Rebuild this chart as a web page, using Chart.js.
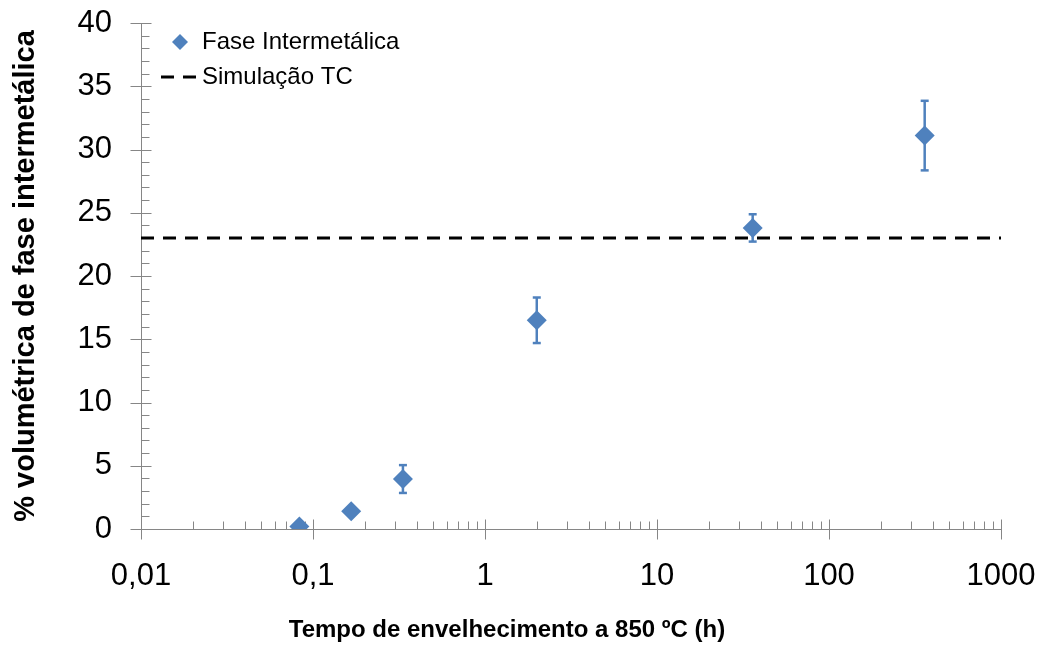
<!DOCTYPE html>
<html>
<head>
<meta charset="utf-8">
<script src="https://cdn.jsdelivr.net/npm/chart.js@4.4.1/dist/chart.umd.min.js"></script>
<style>
  html, body { margin: 0; padding: 0; background: #fff; }
  canvas { display: block; }
</style>
</head>
<body>
<canvas id="chart" width="1041" height="646"></canvas>
<script>
// data
const timeHours = [0.0833, 0.1667, 0.3333, 2, 36, 360];
const phasePct = [0.2, 1.4, 3.95, 16.5, 23.8, 31.1];
const phaseErr = [0, 0, 1.1, 1.8, 1.08, 2.75];
const simTime = [0.01, 1000];
const simPct = [23, 23];
const xTickValues = [0.01, 0.1, 1, 10, 100, 1000];
const xTickLabels = ['0,01', '0,1', '1', '10', '100', '1000'];
const yTickValues = [0, 5, 10, 15, 20, 25, 30, 35, 40];
const seriesNames = ['Fase Intermetálica', 'Simulação TC'];
const xTitle = 'Tempo de envelhecimento a 850 ºC (h)';
const yTitle = '% volumétrica de fase intermetálica';

const BLUE = '#4F81BD';
const AXIS = '#868686';
const FONT = '"Liberation Sans", Arial, sans-serif';

// kill the label overflow padding so the plot area sits where the layout padding says
function noOverflow(s) {
  s.paddingTop = 0; s.paddingBottom = 0; s.paddingLeft = 0; s.paddingRight = 0;
}

// axis lines, tick marks (major cross, minor inside) and error bars
const axesPlugin = {
  id: 'axesPlugin',
  beforeDatasetsDraw(chart) {
    const { ctx, chartArea: a, scales: { x, y } } = chart;
    ctx.save();
    ctx.strokeStyle = AXIS;
    ctx.lineWidth = 1;
    const line = (x1, y1, x2, y2) => {
      ctx.beginPath(); ctx.moveTo(x1, y1); ctx.lineTo(x2, y2); ctx.stroke();
    };
    const ax = Math.round(a.left) + 0.5;
    const ay = Math.round(a.bottom) + 0.5;
    line(ax, a.top, ax, a.bottom);
    line(a.left, ay, a.right, ay);
    // y ticks
    for (let v = 0; v <= 40; v++) {
      const py = Math.round(y.getPixelForValue(v)) + 0.5;
      if (yTickValues.includes(v)) line(ax - 11, py, ax + 10, py);
      else line(ax, py, ax + 8, py);
    }
    // x ticks
    xTickValues.forEach((d, i) => {
      const px = Math.round(x.getPixelForValue(d)) + 0.5;
      line(px, ay - 10, px, ay + 10);
      if (i < xTickValues.length - 1) {
        for (let k = 2; k <= 9; k++) {
          const mx = Math.round(x.getPixelForValue(k * d)) + 0.5;
          line(mx, ay - 8, mx, ay);
        }
      }
    });
    // error bars
    ctx.strokeStyle = BLUE;
    ctx.lineWidth = 2.5;
    timeHours.forEach((t, i) => {
      if (!phaseErr[i]) return;
      const px = x.getPixelForValue(t);
      const top = y.getPixelForValue(phasePct[i] + phaseErr[i]);
      const bot = y.getPixelForValue(phasePct[i] - phaseErr[i]);
      line(px, top, px, bot);
      line(px - 4, top, px + 4, top);
      line(px - 4, bot, px + 4, bot);
    });
    ctx.restore();
  },
  afterDraw(chart) {
    const { ctx, chartArea: a } = chart;
    ctx.save();
    // legend
    ctx.fillStyle = BLUE;
    ctx.beginPath();
    ctx.moveTo(180, 34); ctx.lineTo(188, 42); ctx.lineTo(180, 50); ctx.lineTo(172, 42);
    ctx.closePath(); ctx.fill();
    ctx.strokeStyle = '#000';
    ctx.lineWidth = 3;
    ctx.setLineDash([13, 9]);
    ctx.beginPath(); ctx.moveTo(161, 77); ctx.lineTo(196, 77); ctx.stroke();
    ctx.setLineDash([]);
    ctx.fillStyle = '#000';
    ctx.font = '24px ' + FONT;
    ctx.textAlign = 'left';
    ctx.textBaseline = 'middle';
    ctx.fillText(seriesNames[0], 202, 42);
    ctx.fillText(seriesNames[1], 202, 77);
    // axis titles
    ctx.font = 'bold 24px ' + FONT;
    ctx.textAlign = 'center';
    ctx.fillText(xTitle, 507, 630);
    ctx.translate(26, (a.top + a.bottom) / 2);
    ctx.rotate(-Math.PI / 2);
    ctx.font = 'bold 29px ' + FONT;
    ctx.fillText(yTitle, 0, 0);
    ctx.restore();
  }
};

new Chart(document.getElementById('chart'), {
  type: 'scatter',
  data: {
    datasets: [
      {
        label: seriesNames[0],
        data: timeHours.map((t, i) => ({ x: t, y: phasePct[i] })),
        pointStyle: 'rectRot',
        pointRadius: 10,
        pointHoverRadius: 10,
        backgroundColor: BLUE,
        borderColor: BLUE,
        borderWidth: 0,
        showLine: false
      },
      {
        label: seriesNames[1],
        data: simTime.map((t, i) => ({ x: t, y: simPct[i] })),
        showLine: true,
        borderColor: '#000',
        borderWidth: 3,
        borderDash: [13, 9],
        pointRadius: 0,
        fill: false
      }
    ]
  },
  options: {
    responsive: false,
    animation: false,
    layout: { padding: { top: 23, right: 40, left: 0, bottom: 0 } },
    plugins: { legend: { display: false }, tooltip: { enabled: false } },
    scales: {
      x: {
        type: 'logarithmic',
        min: 0.01,
        max: 1000,
        grid: { display: false, drawTicks: false },
        border: { display: false },
        afterBuildTicks: s => { s.ticks = xTickValues.map(v => ({ value: v })); },
        afterFit: s => { s.height = 117; noOverflow(s); },
        ticks: {
          autoSkip: false,
          maxRotation: 0,
          padding: 29,
          color: '#000',
          font: { size: 31, family: FONT },
          callback: v => {
            const i = xTickValues.indexOf(v);
            return i >= 0 ? xTickLabels[i] : '';
          }
        }
      },
      y: {
        min: 0,
        max: 40,
        grid: { display: false, drawTicks: false },
        border: { display: false },
        afterBuildTicks: s => { s.ticks = yTickValues.map(v => ({ value: v })); },
        afterFit: s => { s.width = 141; noOverflow(s); },
        ticks: {
          padding: 29,
          color: '#000',
          font: { size: 31, family: FONT }
        }
      }
    }
  },
  plugins: [axesPlugin]
});
</script>
</body>
</html>
